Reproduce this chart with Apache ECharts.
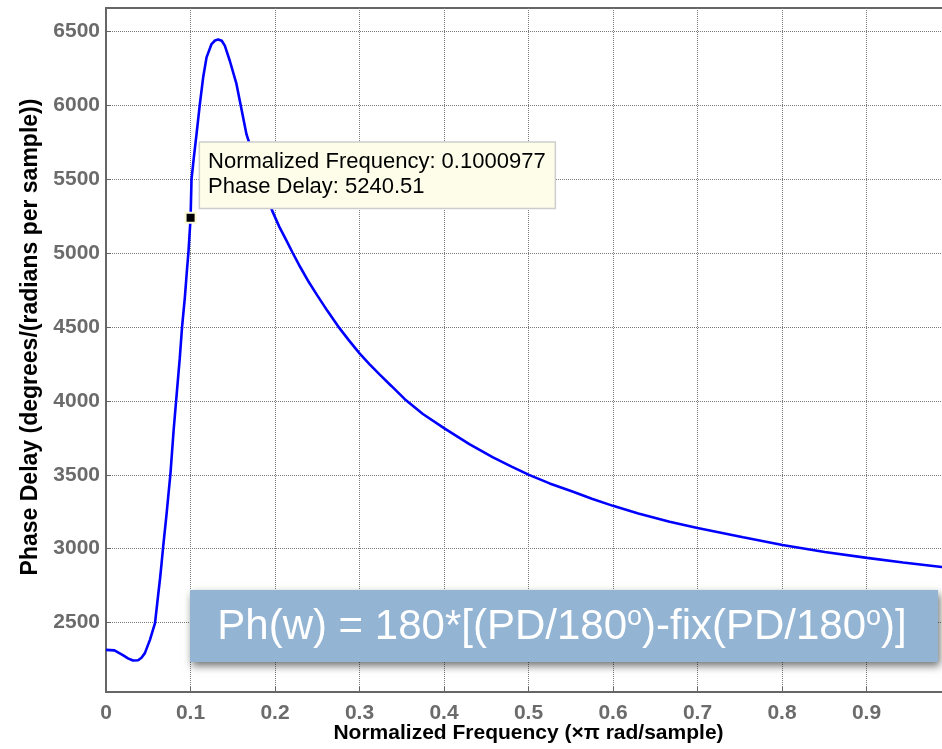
<!DOCTYPE html>
<html><head><meta charset="utf-8">
<script src="https://cdn.jsdelivr.net/npm/echarts@6/dist/echarts.min.js"></script>
<style>html,body{margin:0;padding:0;background:#fff}#c{width:942px;height:749px}</style>
</head><body><div id="c"></div>
<script>
// Normalized frequency (x pi rad/sample)
const freq = [0, 0.01, 0.02, 0.026, 0.032, 0.038, 0.042, 0.046, 0.052, 0.058, 0.062, 0.064, 0.0656, 0.0676, 0.0716, 0.0763, 0.08, 0.0834, 0.0873, 0.09, 0.0933, 0.096, 0.0975, 0.1001, 0.1012, 0.104, 0.1071, 0.111, 0.115, 0.119, 0.1249, 0.129, 0.1327, 0.137, 0.1406, 0.1465, 0.1544, 0.16, 0.1663, 0.175, 0.182, 0.19, 0.1965, 0.205, 0.2136, 0.2207, 0.23, 0.24, 0.25, 0.262, 0.2747, 0.2875, 0.3003, 0.312, 0.324, 0.338, 0.3536, 0.375, 0.4, 0.43, 0.458, 0.48, 0.5006, 0.525, 0.5528, 0.575, 0.6, 0.63, 0.667, 0.7, 0.754, 0.8006, 0.8506, 0.9007, 0.9433, 0.989, 1.0];
// Phase delay (degrees/(radians per sample))
const phaseDelay = [2315, 2312, 2280, 2258, 2243, 2245, 2262, 2293, 2383, 2496, 2700, 2800, 2890, 3010, 3230, 3510, 3800, 4030, 4290, 4500, 4700, 4900, 5000, 5240.51, 5500, 5650, 5804, 6006, 6191, 6326, 6416, 6440, 6447, 6438, 6405, 6303, 6146, 5985, 5804, 5650, 5530, 5400, 5290, 5180, 5085, 5005, 4905, 4805, 4715, 4610, 4505, 4410, 4320, 4248, 4178, 4100, 4012, 3912, 3816, 3708, 3618, 3556, 3500, 3442, 3385, 3338, 3290, 3238, 3183, 3140, 3077, 3025, 2978, 2938, 2907, 2876, 2869];
const xTicks = [0, 0.1, 0.2, 0.3, 0.4, 0.5, 0.6, 0.7, 0.8, 0.9];
const yTicks = [2500, 3000, 3500, 4000, 4500, 5000, 5500, 6000, 6500];
const cursorPoint = [0.1000977, 5240.51];
const cursorLines = ['Normalized Frequency: 0.1000977', 'Phase Delay: 5240.51'];

const FONT = 'Liberation Sans, Arial, Helvetica, sans-serif';
const chart = echarts.init(document.getElementById('c'), null, {renderer: 'canvas'});
const seriesData = freq.map((f, i) => [f, phaseDelay[i]]);

chart.setOption({
  animation: false,
  backgroundColor: '#fff',
  grid: {left: 106, top: 8, right: -9, bottom: 57, show: true, borderColor: '#666', borderWidth: 2,
    backgroundColor: 'transparent', containLabel: false, outerBoundsMode: 'none'},
  xAxis: {
    type: 'value', min: 0, max: 1,
    name: 'Normalized Frequency (×π rad/sample)', nameLocation: 'middle', nameGap: 31, nameMoveOverlap: false,
    nameTextStyle: {fontFamily: FONT, fontWeight: 'bold', fontSize: 21, color: '#000'},
    axisLine: {show: true, lineStyle: {color: '#666', width: 2}},
    axisTick: {show: true, inside: true, length: 5, customValues: xTicks, lineStyle: {color: '#666', width: 1}},
    axisLabel: {customValues: xTicks, fontFamily: FONT, fontWeight: 'bold', fontSize: 21, color: '#6b6b6b', margin: 11,
      formatter: v => String(v)},
    splitLine: {show: true, lineStyle: {color: '#7a7a7a', width: 1, type: [1, 1]}}
  },
  yAxis: {
    type: 'value', min: 2030, max: 6660,
    name: 'Phase Delay (degrees/(radians per sample))', nameLocation: 'middle', nameGap: 61,
    nameTextStyle: {fontFamily: FONT, fontWeight: 'bold', fontSize: 23, color: '#000', padding: [0, 0, 0, 26]},
    axisLine: {show: true, lineStyle: {color: '#666', width: 2}},
    axisTick: {show: true, inside: true, length: 5, customValues: yTicks, lineStyle: {color: '#666', width: 1}},
    axisLabel: {customValues: yTicks, fontFamily: FONT, fontWeight: 'bold', fontSize: 21, color: '#6b6b6b', margin: 6,
      formatter: v => String(v)},
    splitLine: {show: true, lineStyle: {color: '#7a7a7a', width: 1, type: [1, 1]}}
  },
  series: [{
    type: 'line', data: seriesData, showSymbol: false, smooth: false,
    lineStyle: {color: '#0000ff', width: 2.6},
    clip: true,
    markPoint: {
      symbol: 'rect', symbolSize: 10,
      itemStyle: {color: '#000', borderColor: '#fbfbd6', borderWidth: 2},
      label: {
        show: true, position: [15.5, -69],
        formatter: () => cursorLines.join('\n'),
        fontFamily: FONT, fontSize: 22, lineHeight: 25, color: '#000',
        backgroundColor: '#fdfdea', borderColor: '#cdcdcd', borderWidth: 1.5,
        padding: [7, 9, 8, 8]
      },
      data: [{coord: cursorPoint}]
    }
  }],
  graphic: [
    {type: 'rect', left: 190, top: 590, z: 100,
     shape: {width: 748, height: 72},
     style: {fill: '#94b4d3', shadowBlur: 8, shadowColor: 'rgba(0,0,0,0.55)', shadowOffsetX: 2, shadowOffsetY: 4}},
    {type: 'text', x: 562, y: 627, z: 101,
     style: {
       text: '{m|Ph(w) = 180*[(PD/180}{s|o}{m|)-fix(PD/180}{s|o}{m|)]}',
       align: 'center', verticalAlign: 'middle',
       rich: {
         m: {fontFamily: FONT, fontSize: 42, fill: '#fff', lineHeight: 46},
         s: {fontFamily: FONT, fontSize: 27, fill: '#fff', verticalAlign: 'top', lineHeight: 22}
       }
     }}
  ]
});
</script>
</body></html>
